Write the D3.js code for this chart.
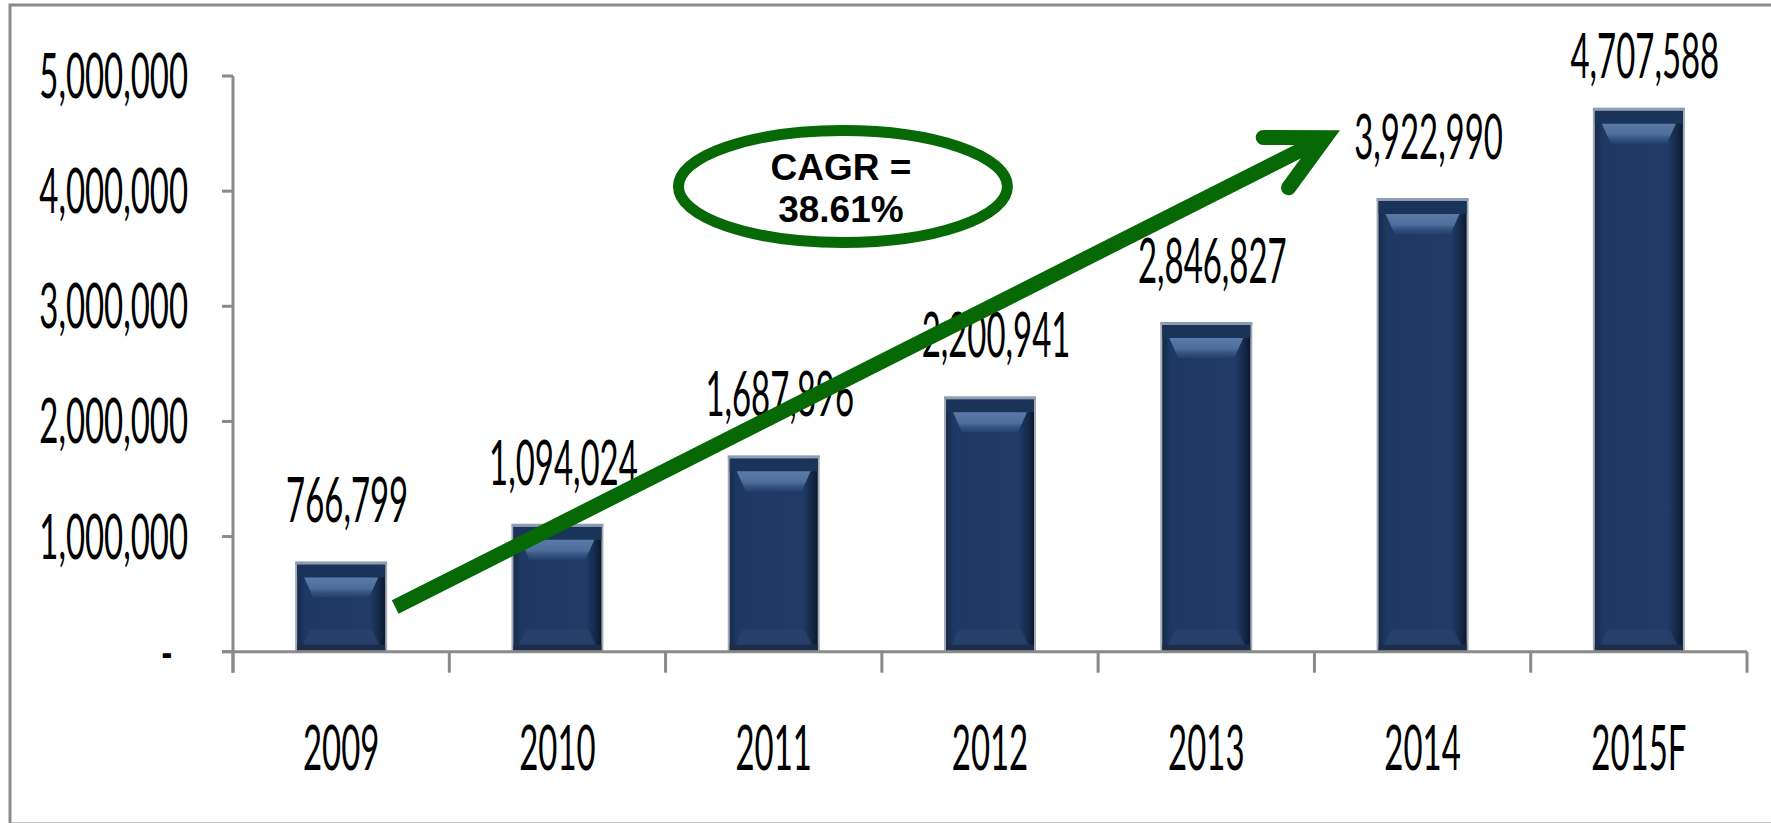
<!DOCTYPE html>
<html>
<head>
<meta charset="utf-8">
<script src="https://cdn.jsdelivr.net/npm/d3@7"></script>
<style>
  body { margin: 0; background: #fff; }
  svg { display: block; }
  .num { font-family: Lato, 'Liberation Sans', sans-serif; fill: #000; }
  .cagr { font-family: 'Liberation Sans', Arial, sans-serif; font-weight: bold; fill: #000; }
</style>
</head>
<body>
<svg id="chart"></svg>
<script>
let years = ['2009', '2010', '2011', '2012', '2013', '2014', '2015F'];
let values = [766799, 1094024, 1687896, 2200941, 2846827, 3922990, 4707588];
let yTicks = [0, 1000000, 2000000, 3000000, 4000000, 5000000];
let cagrLines = ['CAGR =', '38.61%'];
// annotation anchors in data units: [category index, value]
let arrowFrom = [0.25, 388000];
let arrowTo = [4.62, 4530000];
let ovalAt = [2.32, 4040000];

let width = 1771;
let height = 823;
let plotLeft = 233, plotRight = 1747, plotTop = 76, plotBottom = 651.7;
let squeeze = 0.54;   // the original numbers are very narrow
let green = '#066906';

let svg = d3.select('#chart').attr('width', width).attr('height', height);

let xScale = d3.scaleBand()
    .domain(years)
    .range([plotLeft, plotRight])
    .paddingInner(0.584)
    .paddingOuter(0.292);

let xIndex = d3.scaleLinear().domain([-0.5, years.length - 0.5]).range([plotLeft, plotRight]);

let yScale = d3.scaleLinear()
    .domain([0, 5000000])
    .range([plotBottom, plotTop]);

let fmt = d3.format(',');

// gradients for the bevelled bars
let defs = svg.append('defs');
let body = defs.append('linearGradient').attr('id', 'barBody').attr('x1', 0).attr('x2', 1).attr('y1', 0).attr('y2', 0);
[[0, '#14294a'], [0.1, '#1d3963'], [0.82, '#1f3b66'], [0.92, '#142a4a'], [1, '#0a1426']].forEach(s => {
    body.append('stop').attr('offset', s[0]).attr('stop-color', s[1]);
});
let bevel = defs.append('linearGradient').attr('id', 'barBevel').attr('x1', 0).attr('x2', 0).attr('y1', 0).attr('y2', 1);
[[0, '#5a7aa8'], [0.55, '#4d6d9b'], [0.7, '#395886'], [1, '#22406c']].forEach(s => {
    bevel.append('stop').attr('offset', s[0]).attr('stop-color', s[1]);
});

// outer frame
svg.append('rect')
    .attr('x', 10).attr('y', 5)
    .attr('width', width + 20).attr('height', height - 4)
    .attr('fill', '#fff')
    .attr('stroke', '#8c8c8c')
    .attr('stroke-width', 3);

let drawBars = () => {
    let bars = svg.selectAll('g.bar')
        .data(values)
        .enter()
        .append('g')
        .attr('class', 'bar');

    bars.append('rect')
        .attr('x', (d, i) => xScale(years[i]))
        .attr('y', d => yScale(d))
        .attr('width', xScale.bandwidth())
        .attr('height', d => plotBottom - yScale(d))
        .attr('fill', 'url(#barBody)')
        .attr('stroke', '#a3aab4')
        .attr('stroke-width', 2);

    // dark strip right below the top edge
    bars.append('rect')
        .attr('x', (d, i) => xScale(years[i]) + 1)
        .attr('y', d => yScale(d) + 1)
        .attr('width', xScale.bandwidth() - 2)
        .attr('height', 13)
        .attr('fill', '#1a3459');

    // light bevel band
    bars.append('polygon')
        .attr('points', (d, i) => {
            let x0 = xScale(years[i]), w = xScale.bandwidth(), y0 = yScale(d);
            return [[x0 + 8, y0 + 14], [x0 + w - 8, y0 + 14], [x0 + w - 17, y0 + 34], [x0 + 17, y0 + 34]].join(' ');
        })
        .attr('fill', 'url(#barBevel)');

    // faint bottom bevel
    bars.append('polygon')
        .attr('points', (d, i) => {
            let x0 = xScale(years[i]), w = xScale.bandwidth();
            return [[x0 + 14, plotBottom - 22], [x0 + w - 14, plotBottom - 22], [x0 + w - 6, plotBottom - 6], [x0 + 6, plotBottom - 6]].join(' ');
        })
        .attr('fill', '#28426b')
        .attr('opacity', 0.8);

    bars.append('rect')
        .attr('x', (d, i) => xScale(years[i]) + 1)
        .attr('y', plotBottom - 7)
        .attr('width', xScale.bandwidth() - 2)
        .attr('height', 6)
        .attr('fill', '#1b2d48');

    // top edge highlight
    bars.append('rect')
        .attr('x', (d, i) => xScale(years[i]) - 1)
        .attr('y', d => yScale(d) - 2)
        .attr('width', xScale.bandwidth() + 2)
        .attr('height', 3)
        .attr('fill', '#8f9db3');
};

let squeezedText = (g, x, y, txt, anchor, cls) => {
    g.append('g')
        .attr('transform', 'translate(' + x + ',' + y + ')')
        .append('text')
        .attr('class', cls)
        .attr('transform', 'scale(' + squeeze + ',1)')
        .attr('text-anchor', anchor)
        .attr('font-size', 61)
        .text(txt);
};

let drawAxes = () => {
    let axis = svg.append('g').attr('stroke', '#8a8a8a').attr('stroke-width', 3).attr('fill', 'none');
    axis.append('line').attr('x1', plotLeft).attr('x2', plotLeft).attr('y1', plotTop).attr('y2', plotBottom + 21);
    axis.append('line').attr('x1', plotLeft - 11).attr('x2', plotRight).attr('y1', plotBottom).attr('y2', plotBottom);
    yTicks.forEach(t => {
        axis.append('line').attr('x1', plotLeft - 11).attr('x2', plotLeft).attr('y1', yScale(t)).attr('y2', yScale(t));
    });
    d3.range(years.length + 1).forEach(i => {
        let x = xIndex(i - 0.5);
        axis.append('line').attr('x1', x).attr('x2', x).attr('y1', plotBottom).attr('y2', plotBottom + 21);
    });

    let labels = svg.append('g');
    yTicks.forEach(t => {
        if (t === 0) {
            squeezedText(labels, 173, yScale(t) + 22, '-', 'end', 'num');
        } else {
            squeezedText(labels, 188, yScale(t) + 22, fmt(t), 'end', 'num');
        }
    });
    years.forEach(yr => {
        squeezedText(labels, xScale(yr) + xScale.bandwidth() / 2, 770, yr, 'middle', 'num');
    });
};

let drawValueLabels = () => {
    let g = svg.append('g');
    values.forEach((v, i) => {
        let cx = xScale(years[i]) + xScale.bandwidth() / 2 + 6;
        let by = Math.max(yScale(v) - 41, 78);
        squeezedText(g, cx, by, fmt(v), 'middle', 'num');
    });
};

let drawAnnotations = () => {
    let p0 = [xIndex(arrowFrom[0]), yScale(arrowFrom[1])];
    let p1 = [xIndex(arrowTo[0]), yScale(arrowTo[1])];
    let dx = p1[0] - p0[0], dy = p1[1] - p0[1];
    let len = Math.hypot(dx, dy);
    let ux = dx / len, uy = dy / len;
    let vtx = [p1[0] - ux * 17, p1[1] - uy * 17];
    let ang = Math.atan2(-uy, -ux);
    let spread = 27 * Math.PI / 180, barb = 62;
    let b1 = [vtx[0] + barb * Math.cos(ang - spread), vtx[1] + barb * Math.sin(ang - spread)];
    let b2 = [vtx[0] + barb * Math.cos(ang + spread), vtx[1] + barb * Math.sin(ang + spread)];

    let a = svg.append('g').attr('fill', 'none').attr('stroke', green).attr('stroke-width', 15);
    a.append('line')
        .attr('x1', p0[0]).attr('y1', p0[1])
        .attr('x2', vtx[0] - ux * 4).attr('y2', vtx[1] - uy * 4)
        .attr('stroke-linecap', 'butt');
    a.append('path')
        .attr('d', 'M' + b1 + 'L' + vtx + 'L' + b2)
        .attr('stroke-linejoin', 'miter')
        .attr('stroke-linecap', 'round');

    let cx = xIndex(ovalAt[0]), cy = yScale(ovalAt[1]);
    svg.append('ellipse')
        .attr('cx', cx).attr('cy', cy)
        .attr('rx', 164.5).attr('ry', 56)
        .attr('fill', '#fff')
        .attr('stroke', green)
        .attr('stroke-width', 11);
    svg.append('g').selectAll('text')
        .data(cagrLines)
        .enter()
        .append('text')
        .attr('class', 'cagr')
        .attr('x', cx - 2)
        .attr('y', (d, i) => cy - 6.5 + i * 42)
        .attr('text-anchor', 'middle')
        .attr('font-size', 37)
        .text(d => d);
};

drawBars();
drawAxes();
drawValueLabels();
drawAnnotations();
</script>
</body>
</html>
